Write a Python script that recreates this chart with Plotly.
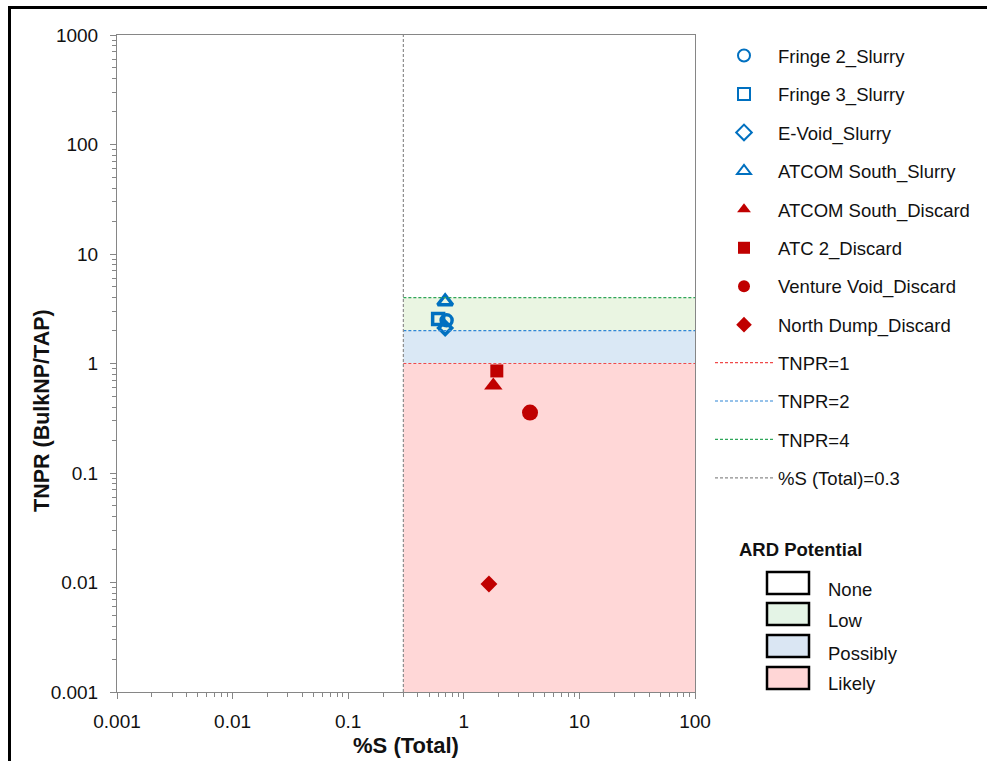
import plotly.graph_objects as go

# ---------------- data ----------------
sample_names = ["Fringe 2_Slurry", "Fringe 3_Slurry", "E-Void_Slurry", "ATCOM South_Slurry",
                "ATCOM South_Discard", "ATC 2_Discard", "Venture Void_Discard", "North Dump_Discard"]
sample_S = [0.71, 0.60, 0.69, 0.69, 1.80, 1.93, 3.74, 1.65]
sample_TNPR = [2.48, 2.55, 2.11, 3.68, 0.63, 0.855, 0.356, 0.0097]
sample_symbols = ["circle-open", "square-open", "diamond-open", "triangle-up-open",
                  "triangle-up", "square", "circle", "diamond"]
sample_sizes = [11, 11, 10, 13, 16, 13, 16, 13]
sample_colors = ["#0070C0"] * 4 + ["#C00000"] * 4

S_threshold = 0.3
x_range = [0.001, 100]
y_range = [0.001, 1000]
tnpr_levels = [1, 2, 4]
tnpr_names = ["TNPR=1", "TNPR=2", "TNPR=4"]
tnpr_colors = ["#F04A4A", "#2F86D6", "#2FA65A"]

region_names = ["Likely", "Possibly", "Low"]
region_low = [0.001, 1, 2]
region_high = [1, 2, 4]
region_colors = ["#FFD7D7", "#DAE8F5", "#EAF5E2"]

ard_labels = ["None", "Low", "Possibly", "Likely"]
ard_colors = ["#FFFFFF", "#E4F4E6", "#DAE6F3", "#FFD6D6"]

x_tickvals = [0.001, 0.01, 0.1, 1, 10, 100]
x_ticktext = ["0.001", "0.01", "0.1", "1", "10", "100"]
y_tickvals = [0.001, 0.01, 0.1, 1, 10, 100, 1000]
y_ticktext = ["0.001", "0.01", "0.1", "1", "10", "100", "1000"]

# ---------------- geometry ----------------
W, H = 987, 761
L, R, T, B = 117, 292, 35, 69
PW, PH = W - L - R, H - T - B

def px(x):
    return (x - L) / PW

def py(y):
    return (H - B - y) / PH

FONT = "Liberation Sans, Arial, sans-serif"

fig = go.Figure()

# shaded regions
for name, lo, hi, col in zip(region_names, region_low, region_high, region_colors):
    fig.add_trace(go.Scatter(
        x=[S_threshold, x_range[1], x_range[1], S_threshold, S_threshold],
        y=[lo, lo, hi, hi, lo], mode="lines", fill="toself", fillcolor=col,
        line=dict(width=0), hoverinfo="skip", showlegend=False, name=name))

# sample markers
for i, (n, xv, yv, sym, sz, c) in enumerate(zip(sample_names, sample_S, sample_TNPR,
                                               sample_symbols, sample_sizes, sample_colors)):
    is_open = sym.endswith("-open")
    fig.add_trace(go.Scatter(
        x=[xv], y=[yv], mode="markers", name=n, legendgroup="g%d" % i, legend="legend",
        marker=dict(symbol=sym, size=sz, color=c,
                    line=dict(width=3.5 if is_open else 0, color=c))))

# TNPR lines
for j, (lv, n, c) in enumerate(zip(tnpr_levels, tnpr_names, tnpr_colors)):
    fig.add_trace(go.Scatter(
        x=[S_threshold, x_range[1]], y=[lv, lv], mode="lines", name=n, legend="legend2",
        legendgroup="l%d" % j, line=dict(color=c, width=1.2, dash="3px,2px")))

# %S threshold line
fig.add_trace(go.Scatter(
    x=[S_threshold, S_threshold], y=y_range, mode="lines", name="%S (Total)=0.3",
    legend="legend2", legendgroup="s", line=dict(color="#8C8C8C", width=1.2, dash="3px,2px")))

axis_common = dict(
    type="log", showgrid=False, zeroline=False, showline=True, linecolor="#868686",
    linewidth=1, mirror=True, ticks="outside", ticklen=6, tickcolor="#868686",
    tickfont=dict(family=FONT, size=19, color="#111111"), automargin=False,
    minor=dict(ticks="outside", ticklen=4, tickcolor="#868686", dtick="D1", showgrid=False),
)

fig.update_xaxes(range=[-3, 2], tickvals=x_tickvals, ticktext=x_ticktext,
                 ticklabelstandoff=6,
                 title=dict(text="<b>%S (Total)</b>", font=dict(family=FONT, size=22, color="#111111"),
                            standoff=6),
                 **axis_common)
fig.update_yaxes(range=[-3, 3], tickvals=y_tickvals, ticktext=y_ticktext,
                 ticklabelstandoff=8, **axis_common)

shapes = []
# outer frame
shapes.append(dict(type="rect", xref="paper", yref="paper",
                   x0=px(9.5), x1=px(1100), y0=py(900), y1=py(7.5),
                   line=dict(color="black", width=3), fillcolor="rgba(0,0,0,0)", layer="above"))

# ARD key boxes
box_tops = [572, 603, 635, 667]
for top, col in zip(box_tops, ard_colors):
    shapes.append(dict(type="rect", xref="paper", yref="paper",
                       x0=px(767), x1=px(809), y0=py(top + 22), y1=py(top),
                       line=dict(color="black", width=2.5), fillcolor=col, layer="above"))

annotations = [
    dict(text="<b>TNPR (BulkNP/TAP)</b>", xref="paper", yref="paper", x=px(42), y=py(411),
         textangle=-90, showarrow=False, font=dict(family=FONT, size=21.5, color="#111111"),
         xanchor="center", yanchor="middle"),
    dict(text="<b>ARD Potential</b>", xref="paper", yref="paper", x=px(800), y=py(549),
         showarrow=False, font=dict(family=FONT, size=18.5, color="#111111"),
         xanchor="center", yanchor="middle"),
]
label_y = [589, 620, 653, 683]
for lab, ly in zip(ard_labels, label_y):
    annotations.append(dict(text=lab, xref="paper", yref="paper", x=px(826), y=py(ly),
                            showarrow=False, font=dict(family=FONT, size=18.5, color="#111111"),
                            xanchor="left", yanchor="middle"))

legend_common = dict(xanchor="left", yanchor="top",
                     font=dict(family=FONT, size=18.5, color="#111111"),
                     itemwidth=58, tracegroupgap=11.4,
                     bgcolor="rgba(0,0,0,0)", borderwidth=0, traceorder="grouped")

fig.update_layout(
    width=W, height=H, autosize=False,
    margin=dict(l=L, r=R, t=T, b=B, pad=0),
    paper_bgcolor="white", plot_bgcolor="white",
    font=dict(family=FONT, size=18.5, color="#111111"),
    showlegend=True,
    legend=dict(x=px(710), y=py(37), itemsizing="constant", **legend_common),
    legend2=dict(x=px(710), y=py(344), itemsizing="trace", **legend_common),
    shapes=shapes, annotations=annotations,
)

fig.write_html("out.html")
